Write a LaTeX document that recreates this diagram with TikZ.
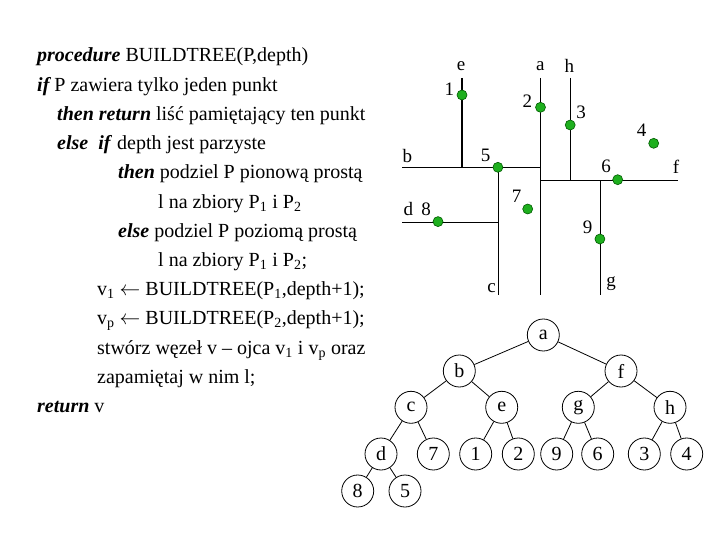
\documentclass[tikz,border=0pt]{standalone}
\usepackage{fontspec}
\setmainfont{Liberation Serif}
\newcommand\kwd[1]{\textbf{\textit{#1}}}
\definecolor{ptgreen}{RGB}{30,175,30}
\definecolor{ptdark}{RGB}{0,90,0}
\begin{document}
\begin{tikzpicture}[x=1pt,y=-1pt,
  codeline/.style={anchor=base west, inner sep=0pt, font=\fontsize{20}{24}\selectfont},
  lbl/.style={inner sep=0pt, font=\fontsize{19}{21}\selectfont},
  pnt/.style={circle, fill=ptgreen, draw=ptdark, line width=0.6pt, minimum size=10pt, inner sep=0pt},
  tn/.style={circle, draw, line width=0.8pt, minimum size=32pt, inner sep=0pt, font=\fontsize{20}{22}\selectfont},
  tedge/.style={line width=0.8pt},
  split/.style={line width=1.2pt}]
\useasboundingbox (0,0) rectangle (720,540);
% ---- pseudocode ----
\node[codeline] (l1) at (37,62) {\kwd{procedure} BUILDTREE(P,depth)};
\node[codeline] (l2) at (37,91.2) {\kwd{if}\,P zawiera tylko jeden punkt};
\node[codeline] (l3) at (57,120.4) {\kwd{then return} liść pamiętający ten punkt};
\node[codeline] (l4) at (57,149.6) {\kwd{else}\ \ \kwd{if} depth jest parzyste};
\node[codeline] (l5) at (118,178.8) {\kwd{then} podziel P pionową prostą};
\node[codeline] (l6) at (158,208) {l na zbiory P\textsubscript{1} i P\textsubscript{2}};
\node[codeline] (l7) at (118,237.2) {\kwd{else} podziel P poziomą prostą};
\node[codeline] (l8) at (158,266.4) {l na zbiory P\textsubscript{1} i P\textsubscript{2};};
\node[codeline] (l9) at (97,295.6) {v\textsubscript{1} $\leftarrow$ BUILDTREE(P\textsubscript{1},depth+1);};
\node[codeline] (l10) at (97,324.8) {v\textsubscript{p} $\leftarrow$ BUILDTREE(P\textsubscript{2},depth+1);};
\node[codeline] (l11) at (97,354) {stwórz węzeł v – ojca v\textsubscript{1} i v\textsubscript{p} oraz};
\node[codeline] (l12) at (97,383.2) {zapamiętaj w nim l;};
\node[codeline] (l13) at (37,412.4) {\kwd{return} v};
% ---- partition ----
\coordinate (eT) at (462,78);   \coordinate (eB) at (462,167.7);
\coordinate (bL) at (402,167.7); \coordinate (bR) at (540.7,167.7);
\coordinate (aT) at (540.7,78); \coordinate (aB) at (540.7,295);
\coordinate (hT) at (570.3,78); \coordinate (hB) at (570.3,180.3);
\coordinate (fL) at (540.7,180.3); \coordinate (fR) at (678.3,180.3);
\coordinate (gT) at (600.3,180.3); \coordinate (gB) at (600.3,295);
\coordinate (cT) at (498.3,167.7); \coordinate (cB) at (498.3,295);
\coordinate (dL) at (402,222.3); \coordinate (dR) at (498.3,222.3);
\draw[split] (eT) -- (eB);
\draw[split] (bL) -- (bR);
\draw[split] (aT) -- (aB);
\draw[split] (hT) -- (hB);
\draw[split] (fL) -- (fR);
\draw[split] (gT) -- (gB);
\draw[split] (cT) -- (cB);
\draw[split] (dL) -- (dR);
\node[pnt] (p1) at (462,95) {};
\node[pnt] (p2) at (540.5,107.3) {};
\node[pnt] (p3) at (570.2,125) {};
\node[pnt] (p4) at (653.7,143.3) {};
\node[pnt] (p5) at (497.9,167.3) {};
\node[pnt] (p6) at (617.7,179.7) {};
\node[pnt] (p7) at (527.7,209) {};
\node[pnt] (p8) at (438,221.6) {};
\node[pnt] (p9) at (599.9,239) {};
\node[lbl] (le) at (461,66) {e};
\node[lbl] (la) at (540.3,66) {a};
\node[lbl] (lh) at (569.3,66) {h};
\node[lbl] (n1) at (449.3,89.3) {1};
\node[lbl] (n2) at (527.3,101) {2};
\node[lbl] (n3) at (581,112.7) {3};
\node[lbl] (n4) at (641.7,130.7) {4};
\node[lbl] (lb) at (407.3,156) {b};
\node[lbl] (n5) at (485.7,155.7) {5};
\node[lbl] (n6) at (606,166.7) {6};
\node[lbl] (lf) at (676,166.7) {f};
\node[lbl] (n7) at (516.7,196.7) {7};
\node[lbl] (ld) at (408.3,209.3) {d};
\node[lbl] (n8) at (426,209.3) {8};
\node[lbl] (n9) at (587.7,227.7) {9};
\node[lbl] (lc) at (491.7,287.7) {c};
\node[lbl] (lg) at (611,283.3) {g};
% ---- tree ----
\node[tn] (ta) at (543.3,335) {a};
\node[tn] (tb) at (459.3,371) {b};
\node[tn] (tf) at (621,371) {f};
\node[tn] (tc) at (411,407.3) {c};
\node[tn] (te) at (501.7,407.3) {e};
\node[tn] (tg) at (578.3,407.3) {g};
\node[tn] (th) at (670,407.3) {h};
\node[tn] (td) at (381,454) {d};
\node[tn] (t7) at (433.3,454) {7};
\node[tn] (t1) at (475.7,454) {1};
\node[tn] (t2) at (518.3,454) {2};
\node[tn] (t9) at (556.7,454) {9};
\node[tn] (t6) at (597.7,454) {6};
\node[tn] (t3) at (644.3,454) {3};
\node[tn] (t4) at (686.7,454) {4};
\node[tn] (t8) at (357.7,491) {8};
\node[tn] (t5) at (405,491) {5};
\draw[tedge] (ta) -- (tb);
\draw[tedge] (ta) -- (tf);
\draw[tedge] (tb) -- (tc);
\draw[tedge] (tb) -- (te);
\draw[tedge] (tf) -- (tg);
\draw[tedge] (tf) -- (th);
\draw[tedge] (tc) -- (td);
\draw[tedge] (tc) -- (t7);
\draw[tedge] (te) -- (t1);
\draw[tedge] (te) -- (t2);
\draw[tedge] (tg) -- (t9);
\draw[tedge] (tg) -- (t6);
\draw[tedge] (th) -- (t3);
\draw[tedge] (th) -- (t4);
\draw[tedge] (td) -- (t8);
\draw[tedge] (td) -- (t5);
\end{tikzpicture}
\end{document}
